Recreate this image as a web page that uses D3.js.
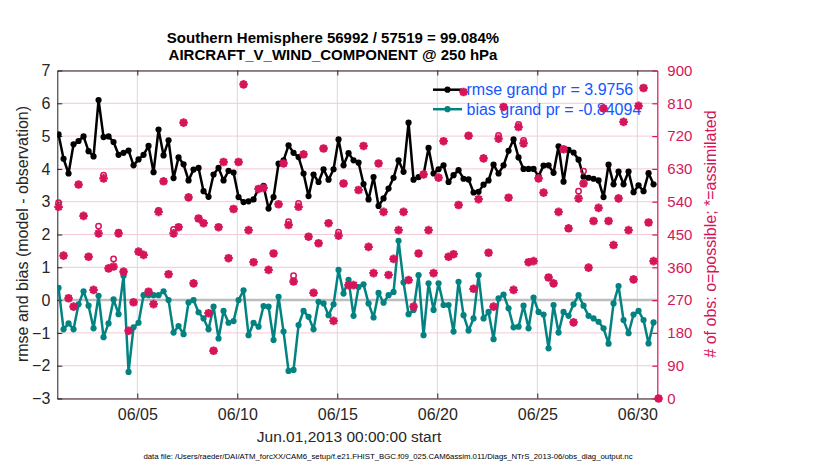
<!DOCTYPE html>
<html><head><meta charset="utf-8">
<script src="https://cdn.jsdelivr.net/npm/d3@7"></script>
<style>
body{margin:0;background:#fff;}
svg{display:block;font-family:"Liberation Sans",Arial,Helvetica,sans-serif;}
</style>
</head><body>
<svg id="c" width="830" height="470"></svg>
<script>
// ---- data (6-hourly bins, June 2013) ----
const rmse = [5.05,4.31,3.86,4.75,4.85,4.99,4.54,4.38,6.10,4.97,
  4.99,4.82,4.43,4.49,4.56,4.11,4.29,4.43,4.70,3.90,
  5.20,4.41,4.87,3.72,4.35,4.14,3.65,3.98,4.03,3.32,
  3.15,3.83,4.03,3.65,3.94,3.89,3.14,2.99,3.01,3.07,
  3.40,3.48,2.79,3.14,4.16,4.26,4.72,4.49,4.36,3.86,
  3.17,3.83,3.60,3.99,3.67,3.99,4.90,4.11,4.48,4.26,
  4.19,3.54,3.07,3.75,2.87,3.10,3.40,3.73,4.26,3.91,
  5.41,3.67,3.75,3.83,4.64,3.86,3.99,4.11,3.60,3.81,
  3.96,3.70,3.68,3.28,3.30,3.52,3.65,4.13,3.86,4.11,
  4.55,4.90,4.35,4.00,4.00,4.00,3.78,4.10,4.11,3.88,
  4.69,3.61,4.58,4.50,4.28,3.76,3.73,3.70,3.65,3.14,
  4.13,3.53,3.92,3.53,3.92,3.29,3.50,3.32,3.87,3.53,null];
const bias = [0.37,-0.89,-0.71,-0.89,-0.13,0.27,-0.17,-0.86,0.13,-1.13,
  -0.71,0.02,-0.43,0.74,-2.19,-0.83,-0.69,0.15,0.15,0.15,
  0.15,0.27,0.00,-0.99,-0.79,-1.04,-0.07,0.00,-0.37,-0.56,
  -0.89,-0.20,-1.17,-0.33,-0.69,-0.64,0.00,0.30,-1.07,-0.69,
  -0.81,-0.18,-0.20,-1.22,0.10,-0.96,-2.16,-2.13,-0.76,-0.33,
  -0.51,-0.89,-0.05,-0.10,-0.46,-0.13,0.92,0.20,0.62,-0.48,
  0.40,0.48,-0.10,-0.53,0.22,-0.08,0.15,0.25,1.81,0.54,
  -0.43,-0.30,0.76,-1.07,0.51,-0.30,0.51,-0.15,-0.15,-0.96,
  0.56,-0.46,-0.93,-0.56,0.76,-0.56,-0.36,-1.19,0.05,0.17,
  -0.25,-0.83,-0.81,-0.17,-0.86,0.08,-0.36,-0.44,-1.47,-0.15,
  -0.99,-0.36,-0.48,-0.13,0.15,-0.17,-0.48,-0.56,-0.66,-0.86,
  -1.33,-0.10,0.43,-0.61,-1.01,-0.44,-0.33,-0.61,-1.32,-0.68,null];
const obsAssim = [526,392,275,252,587,501,389,298,453,604,
  357,362,453,348,186,264,403,394,293,259,
  512,596,341,453,470,757,552,316,494,481,
  234,131,470,649,385,520,649,862,462,374,
  575,578,353,398,533,645,476,321,526,670,
  444,290,426,686,481,213,447,590,311,311,
  572,693,416,344,645,512,339,383,462,512,
  325,252,398,615,462,344,606,706,389,396,
  531,841,721,301,547,659,400,252,713,800,
  551,298,745,700,374,377,604,565,332,316,
  512,684,467,209,549,590,359,487,523,796,
  487,421,549,759,462,327,803,852,483,377,0];
const obsPossible = [537,392,275,252,587,501,389,298,473,613,
  357,383,456,348,186,264,403,394,293,259,
  516,596,341,464,470,757,552,316,494,481,
  234,131,470,649,385,520,649,862,462,374,
  575,578,353,398,533,645,485,337,535,670,
  444,290,426,686,481,213,456,590,311,311,
  572,693,416,344,645,512,339,383,462,512,
  325,252,398,615,462,344,606,706,389,396,
  531,841,721,301,547,659,400,252,722,800,
  551,298,752,708,374,377,604,565,332,316,
  512,684,467,209,569,624,359,487,523,796,
  487,421,549,759,462,327,803,852,483,377,0];
const startDate = Date.UTC(2013,5,1);
const endDate = Date.UTC(2013,6,1);
const binHours = 6, binOffsetHours = 1.5;
const xTickLabels = ["06/05","06/10","06/15","06/20","06/25","06/30"];
const leftTicks = [-3,-2,-1,0,1,2,3,4,5,6,7];
const rightTicks = [0,90,180,270,360,450,540,630,720,810,900];
const titleLines = ["Southern Hemisphere 56992 / 57519 = 99.084%","AIRCRAFT_V_WIND_COMPONENT @ 250 hPa"];
const legendLabels = ["rmse grand pr = 3.9756","bias grand pr = -0.84094"];

// ---- styles ----
const MAG = "#d6145a", TEAL = "#038282", BLUE = "#1456ff";
const L = 57.3, R = 657.3, T = 70.5, B = 398.5;

const times = rmse.map((_, i) => new Date(startDate + (binOffsetHours + binHours*i)*3600e3));
const rows = times.map((t, i) => ({t, rmse: rmse[i], bias: bias[i], na: obsAssim[i], np: obsPossible[i]}));

const svg = d3.select("#c");
const x = d3.scaleUtc().domain([startDate, endDate]).range([L, R]);
const yL = d3.scaleLinear().domain([-3, 7]).range([B, T]);
const yR = d3.scaleLinear().domain([0, 900]).range([B, T]);
const xTickDates = xTickLabels.map(s => new Date(Date.UTC(2013, +s.slice(0,2)-1, +s.slice(3))));

svg.append("defs").append("clipPath").attr("id","clip")
  .append("rect").attr("x",L).attr("y",T).attr("width",R-L).attr("height",B-T);

// grid
const grid = svg.append("g");
grid.selectAll("line.v").data(xTickDates).join("line")
  .attr("x1", d => x(d)).attr("x2", d => x(d)).attr("y1", T).attr("y2", B)
  .attr("stroke", "#d9d9d9").attr("stroke-width", 1);
grid.selectAll("line.h").data(rightTicks).join("line")
  .attr("x1", L).attr("x2", R).attr("y1", d => yR(d)).attr("y2", d => yR(d))
  .attr("stroke", "#f3c9d8").attr("stroke-width", 1);
// zero line
svg.append("line").attr("x1", L).attr("x2", R).attr("y1", yL(0)).attr("y2", yL(0))
  .attr("stroke", "#bdbdbd").attr("stroke-width", 2.5);

// axes
const fontTick = "16px";
const axB = svg.append("g").attr("transform", `translate(0,${B})`)
  .call(d3.axisBottom(x).tickValues(xTickDates).tickFormat((d,i) => xTickLabels[i]).tickSizeInner(-5).tickSizeOuter(0).tickPadding(10));
const axT = svg.append("g").attr("transform", `translate(0,${T})`)
  .call(d3.axisTop(x).tickValues(xTickDates).tickFormat("").tickSizeInner(-5).tickSizeOuter(0));
const axLft = svg.append("g").attr("transform", `translate(${L},0)`)
  .call(d3.axisLeft(yL).tickValues(leftTicks).tickFormat(d3.format("d")).tickSizeInner(-5).tickSizeOuter(0).tickPadding(7));
const axRt = svg.append("g").attr("transform", `translate(${R},0)`)
  .call(d3.axisRight(yR).tickValues(rightTicks).tickFormat(d3.format("d")).tickSizeInner(-5).tickSizeOuter(0).tickPadding(10));
[axB, axT, axLft].forEach(g => {
  g.selectAll("path,line").attr("stroke", "#222");
  g.selectAll("text").attr("fill", "#262626").style("font-size", fontTick);
  g.attr("font-family", null);
});
axRt.selectAll("path,line").attr("stroke", MAG).attr("stroke-width", 1.2);
axRt.selectAll("text").attr("fill", MAG).style("font-size", "15px");
axRt.attr("font-family", null);

// series lines
const plot = svg.append("g").attr("clip-path", "url(#clip)");
const lineR = d3.line().defined(d => d.rmse != null).x(d => x(d.t)).y(d => yL(d.rmse));
const lineB = d3.line().defined(d => d.bias != null).x(d => x(d.t)).y(d => yL(d.bias));
plot.append("path").datum(rows).attr("d", lineR).attr("fill","none").attr("stroke","#000").attr("stroke-width",2.5).attr("stroke-linejoin","round");
plot.selectAll("circle.r").data(rows.filter(d => d.rmse != null)).join("circle")
  .attr("cx", d => x(d.t)).attr("cy", d => yL(d.rmse)).attr("r", 3.1).attr("fill", "#000");
plot.append("path").datum(rows).attr("d", lineB).attr("fill","none").attr("stroke",TEAL).attr("stroke-width",2.5).attr("stroke-linejoin","round");
plot.selectAll("circle.b").data(rows.filter(d => d.bias != null)).join("circle")
  .attr("cx", d => x(d.t)).attr("cy", d => yL(d.bias)).attr("r", 3.1).attr("fill", TEAL);

// legend
const lg = svg.append("g");
["#000", TEAL].forEach((c, k) => {
  const ly = 89.7 + k*19.5;
  lg.append("line").attr("x1", 433).attr("x2", 462).attr("y1", ly).attr("y2", ly).attr("stroke", c).attr("stroke-width", 2.5);
  lg.append("circle").attr("cx", 447.5).attr("cy", ly).attr("r", 3.1).attr("fill", c);
  lg.append("text").attr("x", 466.5).attr("y", ly + 5.6).attr("fill", BLUE).style("font-size", "16px").text(legendLabels[k]);
});

// obs counts (right axis), on top
const star = "M-4.3,0H4.3M0,-4.3V4.3M-3.1,-3.1L3.1,3.1M-3.1,3.1L3.1,-3.1";
const ob = svg.append("g");
ob.selectAll("circle.p").data(rows).join("circle")
  .attr("cx", d => x(d.t)).attr("cy", d => yR(d.np)).attr("r", 2.7)
  .attr("fill", "none").attr("stroke", MAG).attr("stroke-width", 1.5);
ob.selectAll("path.a").data(rows).join("path")
  .attr("transform", d => `translate(${x(d.t)},${yR(d.na)})`).attr("d", star)
  .attr("fill", "none").attr("stroke", MAG).attr("stroke-width", 2.3);

// titles & labels
const tt = svg.append("g").attr("fill", "#000").style("font-weight", "bold").style("font-size", "15px").attr("text-anchor", "middle");
titleLines.forEach((s, k) => tt.append("text").attr("x", 333).attr("y", 42.7 + k*17.5).text(s));
svg.append("text").attr("x", 349).attr("y", 441.5).attr("text-anchor", "middle").attr("fill", "#262626").style("font-size", "15.5px")
  .text("Jun.01,2013 00:00:00 start");
svg.append("text").attr("transform", "translate(27.5,234) rotate(-90)").attr("text-anchor", "middle").attr("fill", "#262626").style("font-size", "16px")
  .text("rmse and bias (model - observation)");
svg.append("text").attr("transform", "translate(716,234) rotate(-90)").attr("text-anchor", "middle").attr("fill", MAG).style("font-size", "16px")
  .text("# of obs: o=possible; *=assimilated");
svg.append("text").attr("x", 388).attr("y", 458.5).attr("text-anchor", "middle").attr("fill", "#000").style("font-size", "7.8px")
  .text("data file: /Users/raeder/DAI/ATM_forcXX/CAM6_setup/f.e21.FHIST_BGC.f09_025.CAM6assim.011/Diags_NTrS_2013-06/obs_diag_output.nc");
</script>
</body></html>
